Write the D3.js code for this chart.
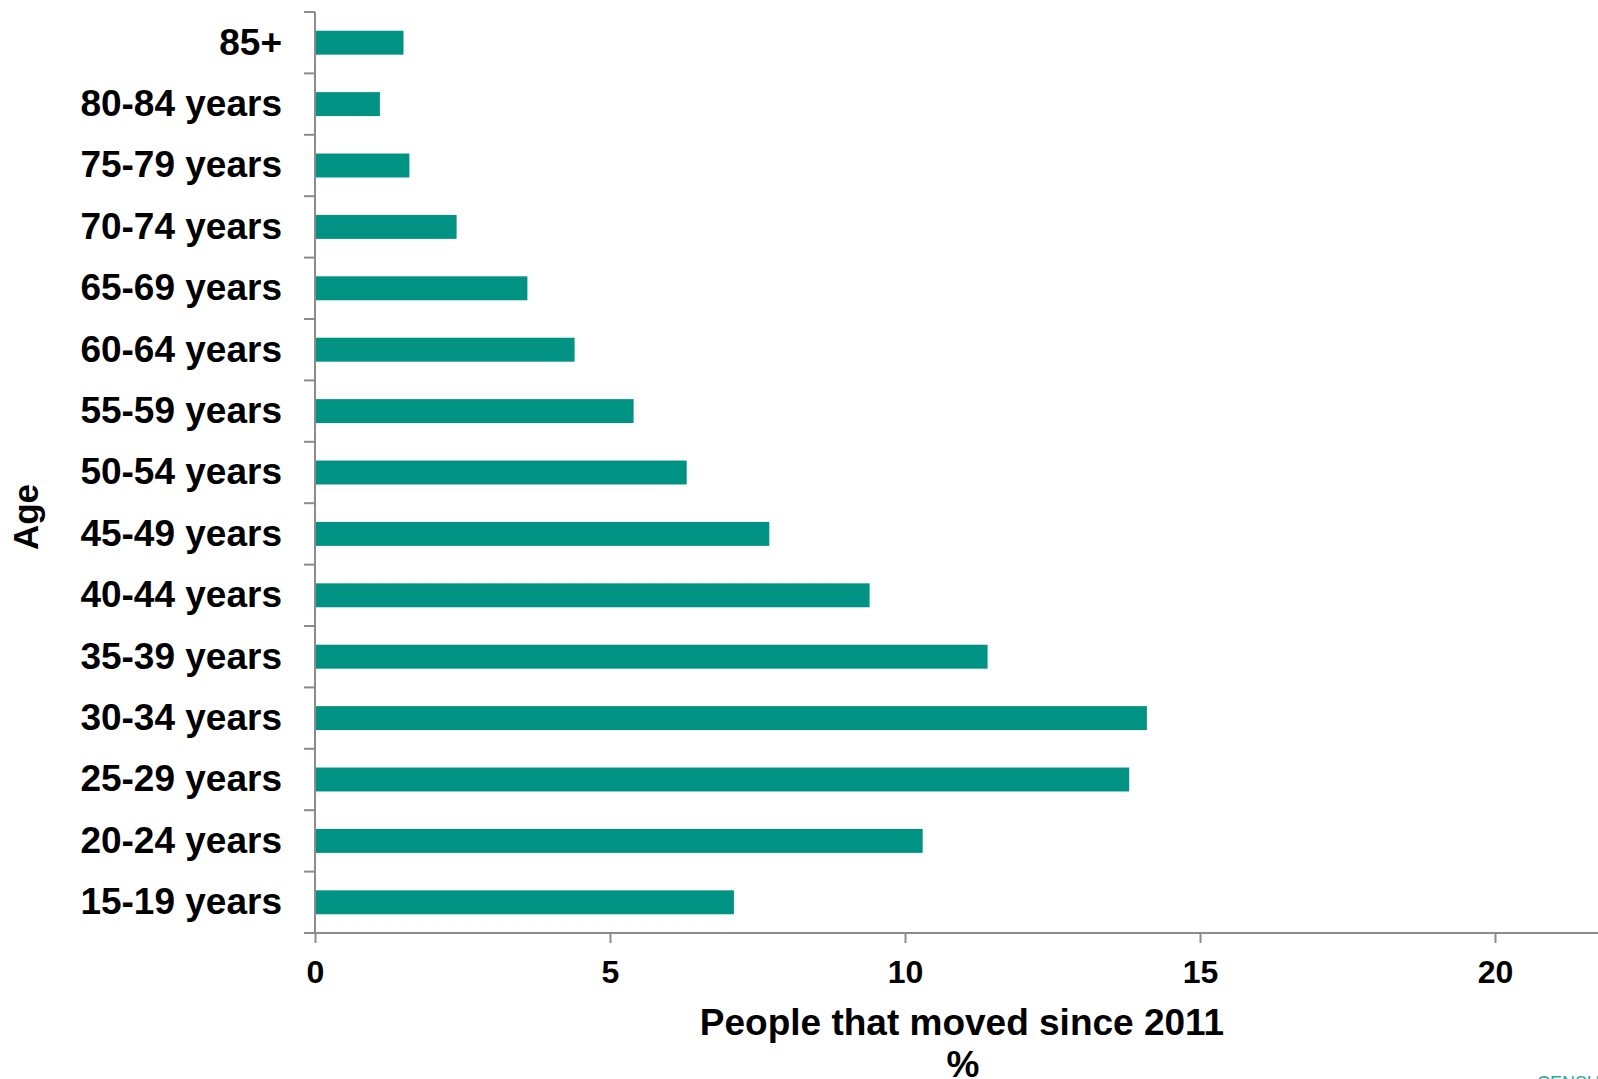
<!DOCTYPE html>
<html>
<head>
<meta charset="utf-8">
<script src="https://cdn.jsdelivr.net/npm/d3@7"></script>
<style>
  html, body { margin: 0; padding: 0; background: #fff; overflow: hidden; }
  svg { display: block; }
  text { font-family: "Liberation Sans", Arial, sans-serif; font-weight: bold; fill: #000; }
</style>
</head>
<body>
<script>
// Age groups, top to bottom
const ageGroups = ["85+", "80-84 years", "75-79 years", "70-74 years", "65-69 years",
  "60-64 years", "55-59 years", "50-54 years", "45-49 years", "40-44 years",
  "35-39 years", "30-34 years", "25-29 years", "20-24 years", "15-19 years"];
// Share of each age group that moved since 2011 (%)
const movedPct = [1.5, 1.1, 1.6, 2.4, 3.6, 4.4, 5.4, 6.3, 7.7, 9.4, 11.4, 14.1, 13.8, 10.3, 7.1];
const xTicks = [0, 5, 10, 15, 20, 25];
const xTitle = ["People that moved since 2011", "%"];
const yTitle = "Age";
const footer = "CENSUS";

const W = 1598, H = 1079;
const barColor = "#009383";
const axisColor = "#8c8c8c";
const fontStack = "'Liberation Sans', Arial, sans-serif";

const svg = d3.select("body").append("svg").attr("width", W).attr("height", H);

const x = d3.scaleLinear().domain([0, 25]).range([315, 1790]);
const y = d3.scaleBand().domain(ageGroups).range([12, 933])
  .paddingInner(0.61).paddingOuter(0.305);

// bars
svg.append("g").selectAll("rect")
  .data(ageGroups.map((g, i) => ({ g, v: movedPct[i] })))
  .join("rect")
  .attr("x", x(0))
  .attr("y", d => y(d.g))
  .attr("width", d => x(d.v) - x(0))
  .attr("height", y.bandwidth())
  .attr("fill", barColor);

// x axis
const xAxis = svg.append("g").attr("transform", "translate(0,933)")
  .call(d3.axisBottom(x).tickValues(xTicks).tickSize(10).tickPadding(17).tickSizeOuter(0));
xAxis.select(".domain").remove();
xAxis.selectAll(".tick line").attr("stroke", axisColor).attr("stroke-width", 2);
xAxis.selectAll(".tick text").style("font-size", "32px").style("font-family", fontStack)
  .style("font-weight", "bold").attr("fill", "#000");
svg.append("line").attr("x1", 304).attr("x2", W).attr("y1", 933).attr("y2", 933)
  .attr("stroke", axisColor).attr("stroke-width", 2);

// y axis: boundary ticks between bands
const step = y.step();
const y0 = y.range()[0];
const bounds = d3.range(ageGroups.length + 1).map(i => y0 + i * step);
svg.append("line").attr("x1", x(0)).attr("x2", x(0)).attr("y1", y0).attr("y2", 933)
  .attr("stroke", axisColor).attr("stroke-width", 2);
svg.append("g").selectAll("line").data(bounds.slice(0, -1)).join("line")
  .attr("x1", 304).attr("x2", x(0)).attr("y1", d => d).attr("y2", d => d)
  .attr("stroke", axisColor).attr("stroke-width", 2);

const yAxis = svg.append("g").attr("transform", `translate(${x(0)},0)`)
  .call(d3.axisLeft(y).tickSize(0).tickPadding(33));
yAxis.select(".domain").remove();
yAxis.selectAll(".tick text").style("font-size", "37px").style("font-family", fontStack)
  .style("font-weight", "bold").attr("fill", "#000");

// axis titles
svg.append("text").attr("x", 962).attr("y", 1035).attr("text-anchor", "middle")
  .style("font-size", "37px").text(xTitle[0]);
svg.append("text").attr("x", 963).attr("y", 1077).attr("text-anchor", "middle")
  .style("font-size", "37px").text(xTitle[1]);
svg.append("text").attr("transform", "translate(38,517) rotate(-90)").attr("text-anchor", "middle")
  .style("font-size", "35px").text(yTitle);

// footer mark at the bottom-right edge
svg.append("text").attr("x", 1537).attr("y", 1089).style("font-size", "18px")
  .style("font-weight", "normal").style("fill", "#2aa89b").text(footer);
</script>
</body>
</html>
